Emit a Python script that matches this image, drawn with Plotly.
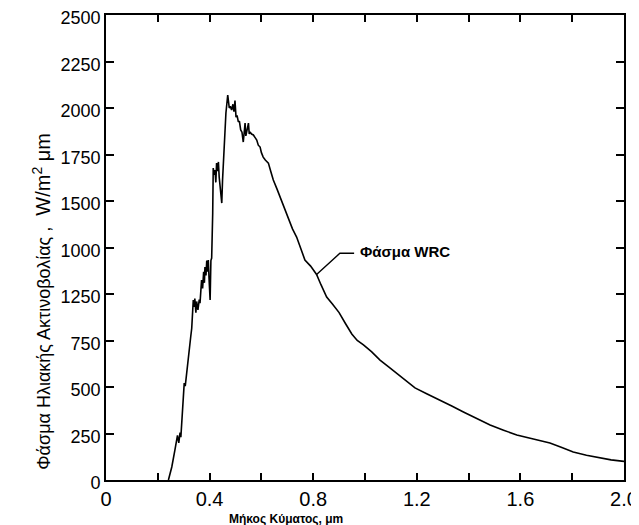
import plotly.graph_objects as go

# Wavelength (μm) and solar spectral irradiance (W/m² μm)
wavelength = [
    0.241, 0.254, 0.266, 0.276, 0.281, 0.286, 0.289, 0.295, 0.298, 0.302,
    0.306, 0.309, 0.318, 0.327, 0.331, 0.334, 0.337, 0.340, 0.343, 0.347,
    0.350, 0.355, 0.360, 0.363, 0.369, 0.373, 0.377, 0.380, 0.382, 0.386,
    0.389, 0.392, 0.395, 0.398, 0.402, 0.405, 0.408, 0.412, 0.414, 0.418,
    0.421, 0.424, 0.427, 0.431, 0.434, 0.437, 0.442, 0.447, 0.450, 0.456,
    0.463, 0.470, 0.473, 0.476, 0.480, 0.485, 0.490, 0.494, 0.498, 0.502,
    0.506, 0.511, 0.515, 0.520, 0.525, 0.530, 0.533, 0.537, 0.540, 0.543,
    0.546, 0.550, 0.553, 0.556, 0.562, 0.569, 0.575, 0.582, 0.588, 0.595,
    0.600, 0.607, 0.615, 0.627, 0.636, 0.646, 0.660, 0.672, 0.688, 0.704,
    0.720, 0.736, 0.752, 0.768, 0.790, 0.813, 0.830, 0.852, 0.875, 0.900,
    0.925, 0.949, 0.970, 0.994, 1.025, 1.058, 1.090, 1.122, 1.160,
    1.193, 1.240, 1.290, 1.335, 1.380, 1.430, 1.483, 1.535, 1.586, 1.650,
    1.714, 1.760, 1.804, 1.855, 1.907, 1.950, 2.000,
]
irradiance = [
    0, 70, 161, 240, 200, 255, 230, 360, 446, 521,
    505, 548, 645, 769, 816, 876, 968, 930, 975, 900,
    960, 914, 970, 951, 1075, 1030, 1120, 1060, 1145, 1100,
    1180, 1120, 1183, 1080, 968, 1180, 1193, 1435, 1677, 1640,
    1666, 1600, 1704, 1660, 1710, 1629, 1560, 1489, 1613, 1790,
    1973, 2070, 2030, 2000, 2010, 1989, 2020, 1980, 2040, 1951,
    1960, 1925, 1930, 1882, 1870, 1817, 1860, 1919, 1850, 1865,
    1890, 1919, 1860, 1871, 1860, 1855, 1840, 1828, 1800, 1790,
    1760, 1736, 1720, 1704, 1660, 1613, 1565, 1521, 1460, 1398,
    1350, 1306, 1240, 1183, 1150, 1105, 1050, 984, 945, 900,
    840, 785, 750, 726, 690, 645, 610, 575, 530,
    495, 462, 430, 398, 366, 330, 296, 268, 242, 220,
    199, 175, 151, 133, 118, 108, 100,
]

# Axis ticks and labels (as printed on the original, including its label order)
x_tickvals = [0, 0.4, 0.8, 1.2, 1.6, 2.0]
x_ticktext = ["0", "0.4", "0.8", "1.2", "1.6", "2.0"]
x_minor_step = 0.2
y_tickvals = [0, 250, 500, 750, 1000, 1250, 1500, 1750, 2000, 2250, 2500]
y_ticktext = ["0", "250", "500", "750", "1250", "1000", "1500", "1750", "2000", "2250", "2500"]

# Callout leader line for the series label
leader_x = [0.813, 0.903, 0.958]
leader_y = [1105, 1219, 1219]
label_text = "Φάσμα WRC"

FONT = "Liberation Sans, Arial, Helvetica, sans-serif"

fig = go.Figure()
fig.add_trace(go.Scatter(
    x=wavelength, y=irradiance, mode="lines",
    line=dict(color="black", width=1.6), showlegend=False, hoverinfo="skip",
))
fig.add_trace(go.Scatter(
    x=leader_x, y=leader_y, mode="lines",
    line=dict(color="black", width=1.4), showlegend=False, hoverinfo="skip",
))

fig.add_annotation(
    x=0.973, y=1226, xref="x", yref="y", text="<b>" + label_text + "</b>",
    showarrow=False, xanchor="left", yanchor="middle",
    font=dict(family=FONT, size=15, color="black"),
)
fig.add_annotation(
    x=-0.124, y=0.385, xref="paper", yref="paper", textangle=-90,
    text="<span style='font-size:18px'>Φάσμα Ηλιακής Ακτινοβολίας ,</span>"
         "<span style='font-size:20px'>  W/m<sup>2</sup> μm</span>",
    showarrow=False, xanchor="center", yanchor="middle",
    font=dict(family=FONT, size=18, color="black"),
)
fig.add_annotation(
    x=0.347, y=-0.084, xref="paper", yref="paper",
    text="<b>Μήκος Κύματος, μm</b>",
    showarrow=False, xanchor="center", yanchor="middle",
    font=dict(family=FONT, size=12, color="black"),
)

fig.update_xaxes(
    range=[0, 2.0], tickvals=x_tickvals, ticktext=x_ticktext,
    ticks="inside", ticklen=7, tickwidth=1.5, tickcolor="black",
    minor=dict(dtick=x_minor_step, tick0=0, ticks="inside", ticklen=7,
               tickwidth=1.5, tickcolor="black"),
    showline=True, linecolor="black", linewidth=1.8, mirror="ticks",
    showgrid=False, zeroline=False, automargin=False,
    ticklabeloverflow="allow",
    tickfont=dict(family=FONT, size=20, color="black"),
)
fig.update_yaxes(
    range=[0, 2500], tickvals=y_tickvals, ticktext=y_ticktext,
    ticks="inside", ticklen=8, tickwidth=1.5, tickcolor="black",
    showline=True, linecolor="black", linewidth=1.8, mirror="ticks",
    showgrid=False, zeroline=False, automargin=False,
    ticklabeloverflow="allow", ticklabelshift=3,
    tickfont=dict(family=FONT, size=18, color="black"),
)
# The page body adds an 8px offset, so the figure is sized to fit what remains
fig.update_layout(
    width=631, height=517,
    margin=dict(l=98, r=15, t=7, b=45),
    paper_bgcolor="white", plot_bgcolor="white",
    font=dict(family=FONT, color="black"),
)

fig.write_html("out.html")
